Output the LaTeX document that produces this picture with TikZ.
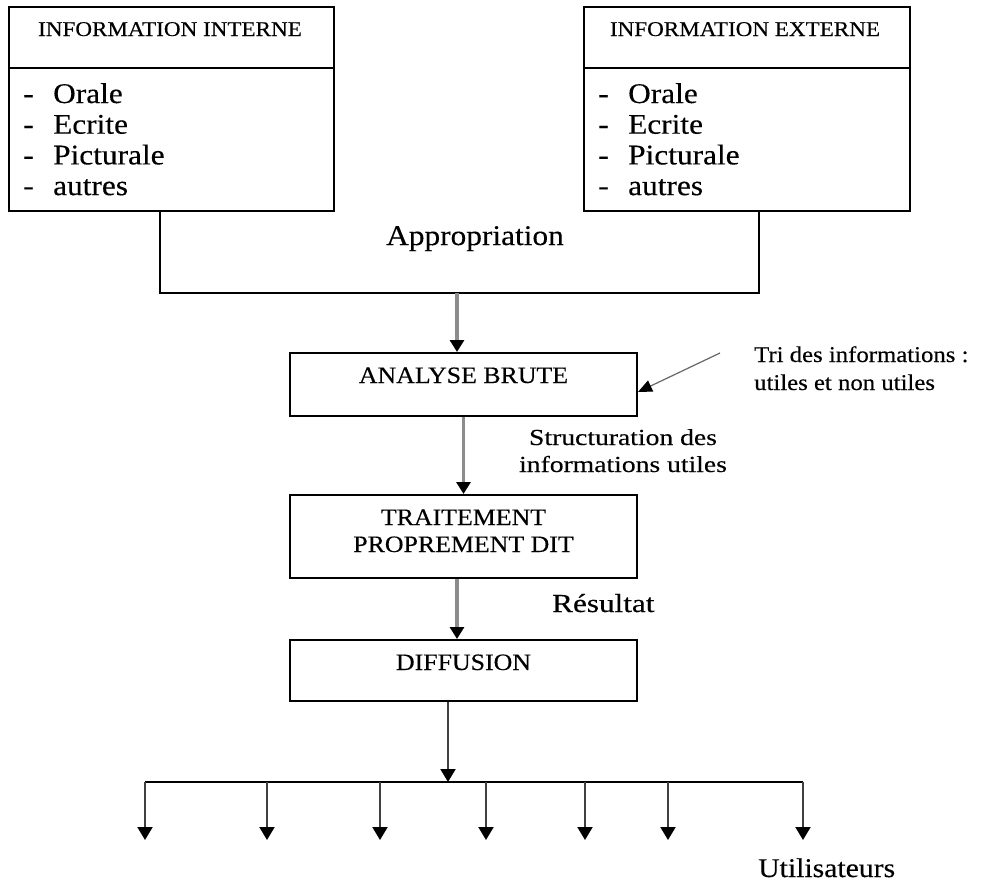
\documentclass[tikz,border=0pt]{standalone}
\usepackage{fontspec}
\setmainfont{Liberation Serif}[FakeStretch=1.1,FakeBold=0.3]
\newfontfamily\widefont{Liberation Serif}[FakeStretch=1.2,FakeBold=0.3]
\usetikzlibrary{arrows.meta,calc}
\newcommand\fsz[2]{\fontsize{#1}{#2}\selectfont}

\begin{document}
\begin{tikzpicture}[x=1pt,y=-1pt,
  box/.style={draw=black,line width=2pt,rectangle,inner sep=0pt},
  wire/.style={draw=black,line width=2pt},
  shaft/.style={draw=black!45,line width=3.2pt,
    -{Triangle[width=14pt,length=12pt,color=black]}},
  drop/.style={draw=black!75,line width=2pt,
    -{Triangle[width=15pt,length=13pt,color=black]}},
  pointer/.style={draw=black!60,line width=1.2pt,
    -{Triangle[width=12pt,length=14pt,color=black]}},
  title/.style={inner sep=0pt,anchor=base,font=\fsz{21}{25}},
  item/.style={inner sep=0pt,anchor=base west,font=\fsz{28.5}{31}},
  stage/.style={inner sep=0pt,anchor=base,font=\fsz{23.5}{27}},
  note/.style={inner sep=0pt,font=\widefont\fsz{23}{28}},
  big/.style={inner sep=0pt,anchor=base,font=\fsz{28.5}{31}}]

\useasboundingbox (0,0) rectangle (987,881);

% source boxes
\node[box,minimum width=325pt,minimum height=204pt] (intbox) at (171.5,109) {};
\node[box,minimum width=326pt,minimum height=204pt] (extbox) at (747,109) {};
\draw[wire] ([yshift=-62pt]intbox.north west) -- ([yshift=-62pt]intbox.north east);
\draw[wire] ([yshift=-62pt]extbox.north west) -- ([yshift=-62pt]extbox.north east);
\node[title] (inttitle) at (170,36) {INFORMATION INTERNE};
\node[title] (exttitle) at (745,36) {INFORMATION EXTERNE};

\foreach \txt [count=\k] in {Orale,Ecrite,Picturale,autres}{
  \pgfmathsetmacro\yb{103+30.7*(\k-1)}
  \node[item] (intitem\k) at (23,\yb) {\makebox[30pt][l]{-}\txt};
  \node[item] (extitem\k) at (598,\yb) {\makebox[30pt][l]{-}\txt};
}

% processing stages
\node[box,minimum width=347pt,minimum height=63pt] (analyse) at (463.5,384.5) {};
\node[stage] (analysetxt) at (463.5,383) {ANALYSE BRUTE};
\node[box,minimum width=347pt,minimum height=83pt] (traitement) at (463.5,536.5) {};
\node[stage] (traittxt1) at (463.5,525) {TRAITEMENT};
\node[stage] (traittxt2) at (463.5,552) {PROPREMENT DIT};
\node[box,minimum width=347pt,minimum height=61pt] (diffusion) at (463.5,670.5) {};
\node[stage] (difftxt) at (463.5,670) {DIFFUSION};

% merging the two sources
\coordinate (jl) at (160,293);
\coordinate (jr) at (759,293);
\coordinate (j1) at (457,293);
\draw[wire] (jl |- intbox.south) -- (jl) -- (jr) -- (jr |- extbox.south);
\node[big] (appro) at (475,245) {Appropriation};

% main flow
\draw[shaft] (j1) -- (j1 |- analyse.north);
\draw[shaft] (analyse.south) -- (traitement.north);
\draw[shaft] ([xshift=-6.5pt]traitement.south) -- ([xshift=-6.5pt]diffusion.north);

% sorting note
\coordinate (trisrc) at (720,353);
\draw[pointer] (trisrc) -- ([yshift=-7.5pt]analyse.east);
\node[inner sep=0pt,anchor=base west,font=\fsz{22.5}{28}] (tri1) at (754,362) {Tri des informations :};
\node[inner sep=0pt,anchor=base west,font=\fsz{22.5}{28}] (tri2) at (754,390) {utiles et non utiles};

\node[note,anchor=base] (struct1) at (623,445) {Structuration des};
\node[note,anchor=base] (struct2) at (623,472) {informations utiles};

\node[note,anchor=base west,font=\widefont\fsz{26}{30}] (resultat) at (552,612) {Résultat};

% distribution to users
\coordinate (j2) at (448,782);
\draw[drop] (j2 |- diffusion.south) -- (j2);
\foreach \xp [count=\k] in {145,267,380,486,585,668,803}{
  \coordinate (u\k) at (\xp,782);
  \coordinate (t\k) at (\xp,840);
}
\draw[wire] (u1) -- (u7);
\foreach \k in {1,...,7}{
  \draw[drop] (u\k) -- (t\k);
}
\node[big,anchor=base west,font=\fsz{27}{31}] (users) at (758,877) {Utilisateurs};

\end{tikzpicture}
\end{document}
